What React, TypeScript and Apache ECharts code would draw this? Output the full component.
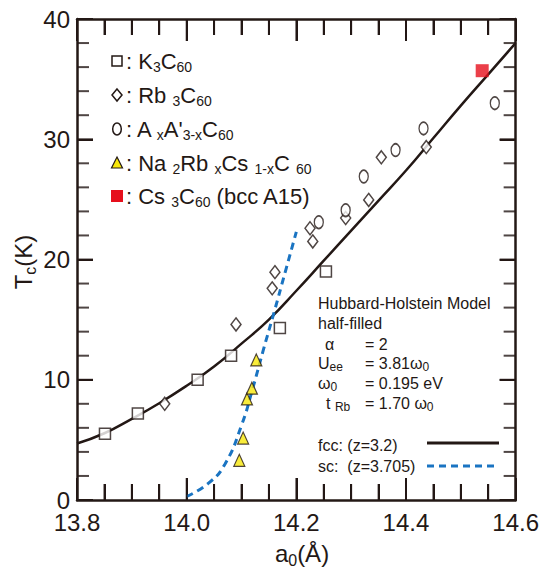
import React, { useEffect, useRef } from 'react';
import * as echarts from 'echarts';

// fcc (z=3.2) model curve
const fccA = [13.8, 13.85, 13.9, 13.95, 14.0, 14.05, 14.1, 14.15, 14.2, 14.25, 14.3, 14.35, 14.4, 14.45, 14.5, 14.55, 14.6];
const fccTc = [4.7, 5.55, 6.75, 8.05, 9.5, 11.1, 13.0, 15.0, 17.4, 19.9, 22.4, 24.9, 27.4, 30.1, 32.8, 35.4, 38.0];
// sc (z=3.705) model curve
const scA = [14.0, 14.04, 14.07, 14.1, 14.12, 14.14, 14.16, 14.18, 14.2];
const scTc = [0.3, 1.4, 3.0, 6.2, 9.2, 12.5, 15.7, 19.0, 22.3];
// K3C60
const k3A = [13.851, 13.911, 14.02, 14.081, 14.17, 14.254];
const k3Tc = [5.5, 7.2, 10.0, 12.0, 14.3, 19.0];
// Rb3C60
const rb3A = [13.96, 14.09, 14.156, 14.161, 14.225, 14.23, 14.29, 14.332, 14.355, 14.437];
const rb3Tc = [8.0, 14.6, 17.6, 18.95, 22.6, 21.5, 23.45, 24.95, 28.5, 29.35];
// AxA'3-xC60
const axA = [14.241, 14.29, 14.323, 14.381, 14.432, 14.562];
const axTc = [23.1, 24.1, 26.9, 29.1, 30.9, 33.0];
// Na2RbxCs1-xC60
const naA = [14.096, 14.103, 14.11, 14.119, 14.127];
const naTc = [3.3, 5.15, 8.4, 9.3, 11.65];
// Cs3C60 (bcc A15)
const csA = [14.539];
const csTc = [35.7];

// axis ranges and tick positions
const xMin = 13.8, xMax = 14.6, xStep = 0.2;
const yMin = 0, yMax = 40, yStep = 10;
const xTickVals = [13.85, 13.9, 13.95, 14.0, 14.05, 14.1, 14.15, 14.2, 14.25, 14.3, 14.35, 14.4, 14.45, 14.5, 14.55];
const yTickVals = [2, 4, 6, 8, 10, 12, 14, 16, 18, 20, 22, 24, 26, 28, 30, 32, 34, 36, 38];

const DARK = '#231815';
const BLUE = '#1a74c2';
const YELLOW = '#f7e70a';
const RED = '#e60f1c';
const FONT = '"Liberation Sans", Arial, Helvetica, sans-serif';

const pairs = (xs: number[], ys: number[]) => xs.map((x, i) => [x, ys[i]]);
const isMultiple = (v: number, step: number) => Math.abs(v / step - Math.round(v / step)) < 1e-6;

function rich(main: number, sub: number, lh: number) {
  return {
    m: { fontSize: main, fontFamily: FONT, fill: DARK, lineHeight: lh, verticalAlign: 'middle' },
    s: { fontSize: sub, fontFamily: FONT, fill: DARK, lineHeight: lh, verticalAlign: 'bottom' },
  };
}

function rtext(x: number, y: number, text: string, main: number, sub: number, lh: number, align = 'left', rotation = 0) {
  return {
    type: 'text',
    x,
    y,
    rotation,
    style: {
      text,
      rich: rich(main, sub, lh),
      fontSize: main,
      fontFamily: FONT,
      fill: DARK,
      align,
      verticalAlign: 'middle',
    },
  };
}

// tick marks as thin rect symbols placed on the axes' scales, pushed inward
function buildTicks() {
  const items: any[] = [];
  xTickVals.forEach((v) => {
    const len = isMultiple(v, xStep) ? 22 : 16;
    items.push({ value: [v, yMin], symbolSize: [2, len], symbolOffset: [0, -len / 2] });
    items.push({ value: [v, yMax], symbolSize: [2, len], symbolOffset: [0, len / 2] });
  });
  yTickVals.forEach((v) => {
    const len = isMultiple(v, yStep) ? 16 : 12;
    items.push({ value: [xMin, v], symbolSize: [len, 2], symbolOffset: [len / 2, 0] });
    items.push({ value: [xMax, v], symbolSize: [len, 2], symbolOffset: [-len / 2, 0] });
  });
  return items;
}

export default function App() {
  const ref = useRef<HTMLDivElement>(null);
  useEffect(() => {
    document.body.style.margin = '0';
    if (!ref.current) return;
    const chart = echarts.init(ref.current, undefined, { renderer: 'svg' });

    const rowY = [61, 95, 129, 163, 196];
    const LX = 117;
    const legendText = [
      '{m|: K}{s|3}{m|C}{s|60}',
      '{m|: Rb }{s|3}{m|C}{s|60}',
      "{m|: A}{s| x}{m|A'}{s|3-x}{m|C}{s|60}",
      '{m|: Na }{s|2}{m|Rb }{s|x}{m|Cs }{s|1-x}{m|C }{s|60}',
      '{m|: Cs }{s|3}{m|C}{s|60}{m| (bcc A15)}',
    ];
    const sym = { stroke: DARK, lineWidth: 1.5 };
    const legendSymbols: any[] = [
      { type: 'rect', shape: { x: LX - 5, y: rowY[0] - 5, width: 10, height: 10 }, style: { fill: '#fff', ...sym } },
      { type: 'polygon', shape: { points: [[LX, rowY[1] - 6], [LX + 5, rowY[1]], [LX, rowY[1] + 6], [LX - 5, rowY[1]]] }, style: { fill: '#fff', ...sym } },
      { type: 'ellipse', shape: { cx: LX, cy: rowY[2], rx: 4.3, ry: 6 }, style: { fill: '#fff', ...sym } },
      { type: 'polygon', shape: { points: [[LX, rowY[3] - 6], [LX + 5.5, rowY[3] + 5], [LX - 5.5, rowY[3] + 5]] }, style: { fill: YELLOW, stroke: DARK, lineWidth: 1.2 } },
      { type: 'rect', shape: { x: LX - 6, y: rowY[4] - 6, width: 12, height: 12 }, style: { fill: RED } },
    ];

    const graphics: any[] = [
      ...legendSymbols,
      ...legendText.map((t, i) => rtext(126, rowY[i], t, 22, 14, 25)),
      // annotation block
      rtext(318, 303, '{m|Hubbard-Holstein Model}', 16, 11, 20),
      rtext(318, 323, '{m|half-filled}', 16, 11, 20),
      rtext(325, 344, '{m|α}', 16, 11, 20),
      rtext(365, 344, '{m|= 2}', 16, 11, 20),
      rtext(318, 363, '{m|U}{s|ee}', 16, 12, 20),
      rtext(365, 363, '{m|= 3.81ω}{s|0}', 16, 12, 20),
      rtext(318, 383, '{m|ω}{s|0}', 16, 12, 20),
      rtext(365, 383, '{m|= 0.195 eV}', 16, 12, 20),
      rtext(326, 403, '{m|t }{s|Rb}', 16, 12, 20),
      rtext(365, 403, '{m|= 1.70 ω}{s|0}', 16, 12, 20),
      rtext(318, 445, '{m|fcc: (z=3.2)}', 16, 12, 20),
      rtext(318, 466, '{m|sc:  (z=3.705)}', 16, 12, 20),
      { type: 'line', shape: { x1: 427, y1: 443, x2: 499, y2: 443 }, style: { stroke: DARK, lineWidth: 3 } },
      { type: 'line', shape: { x1: 427, y1: 466, x2: 499, y2: 466 }, style: { stroke: BLUE, lineWidth: 3, lineDash: [7, 5] } },
      // axis titles
      rtext(23, 262, '{m|T}{s|c}{m|(K)}', 24, 16, 30, 'center', Math.PI / 2),
      rtext(302, 553, '{m|a}{s|0}{m|(Å)}', 24, 16, 30, 'center'),
    ];

    const scatterBase = { type: 'scatter', z: 5, xAxisIndex: 0, yAxisIndex: 0 };
    const blank = () => '';

    const mkX = (pos: string, main: boolean) => ({
      type: 'value', min: xMin, max: xMax, interval: xStep, position: pos,
      splitLine: { show: false },
      axisLine: { show: true, onZero: false, lineStyle: { color: DARK, width: 2.5 } },
      axisTick: { show: true, inside: true, length: 22, lineStyle: { color: DARK, width: 2 } },
      minorTick: { show: true, splitNumber: 4, length: 16, lineStyle: { color: DARK, width: 2 } },
      axisLabel: { show: true, fontSize: 24, fontFamily: FONT, color: DARK, margin: 10, formatter: main ? (v: number) => v.toFixed(1) : blank },
    });
    const mkY = (pos: string, main: boolean) => ({
      type: 'value', min: yMin, max: yMax, interval: yStep, position: pos,
      splitLine: { show: false },
      axisLine: { show: true, onZero: false, lineStyle: { color: DARK, width: 2.5 } },
      axisTick: { show: true, inside: true, length: 16, lineStyle: { color: DARK, width: 2 } },
      axisLabel: { show: true, fontSize: 24, fontFamily: FONT, color: DARK, margin: 7, formatter: main ? (v: number) => String(v) : blank },
    });

    chart.setOption({
      animation: false,
      grid: { left: 77, top: 19, right: 23, bottom: 75 },
      xAxis: [mkX('bottom', true), mkX('top', false)],
      yAxis: [mkY('left', true), mkY('right', false)],
      series: [
        { type: 'scatter', data: buildTicks(), symbol: 'rect', silent: true, clip: false, z: 3, itemStyle: { color: DARK }, emphasis: { disabled: true } },
        { type: 'line', data: pairs(fccA, fccTc), smooth: true, showSymbol: false, z: 2, lineStyle: { color: DARK, width: 2.5 } },
        { type: 'line', data: pairs(scA, scTc), smooth: true, showSymbol: false, z: 2, lineStyle: { color: BLUE, width: 3, type: [7, 5] } },
        { ...scatterBase, data: pairs(k3A, k3Tc), symbol: 'rect', symbolSize: 11, itemStyle: { color: '#fff', borderColor: DARK, borderWidth: 1.5 } },
        { ...scatterBase, data: pairs(rb3A, rb3Tc), symbol: 'diamond', symbolSize: [10, 13], itemStyle: { color: '#fff', borderColor: DARK, borderWidth: 1.5 } },
        { ...scatterBase, data: pairs(axA, axTc), symbol: 'circle', symbolSize: [9, 12.5], itemStyle: { color: '#fff', borderColor: DARK, borderWidth: 1.5 } },
        { ...scatterBase, data: pairs(naA, naTc), symbol: 'triangle', symbolSize: [11, 12], itemStyle: { color: YELLOW, borderColor: DARK, borderWidth: 1.2 } },
        { ...scatterBase, data: pairs(csA, csTc), symbol: 'rect', symbolSize: 13, itemStyle: { color: RED } },
      ],
      graphic: graphics,
    });
    return () => chart.dispose();
  }, []);
  return <div ref={ref} style={{ width: 542, height: 575 }} />;
}
